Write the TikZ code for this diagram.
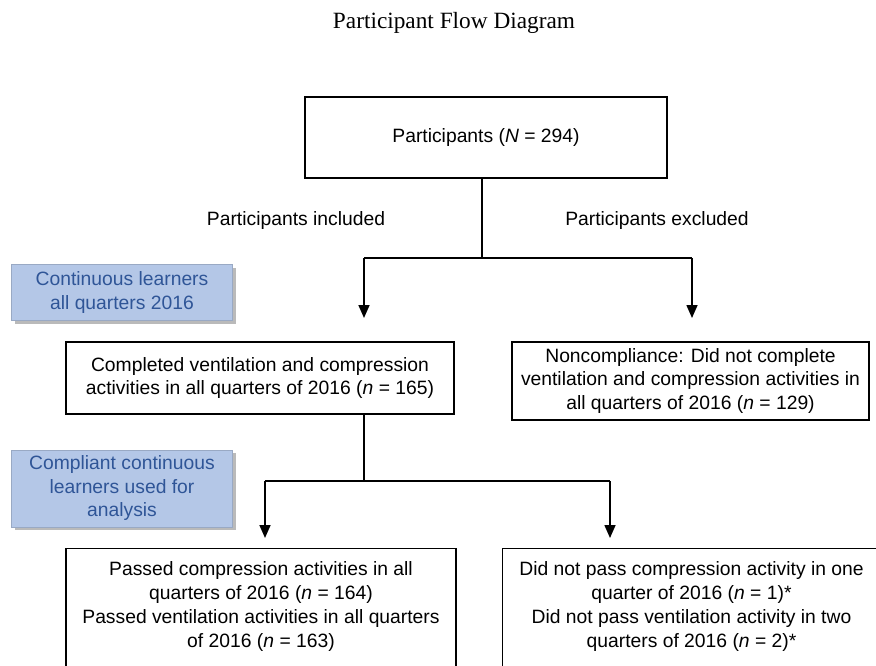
\documentclass[tikz,border=0pt]{standalone}
\usepackage{fontspec}
\setmainfont{Liberation Sans}
\newfontfamily\titlefont{Liberation Serif}
\usetikzlibrary{arrows.meta,shadows}
\definecolor{bluefill}{RGB}{180,199,231}
\definecolor{bluetext}{RGB}{47,85,151}
\begin{document}
\begin{tikzpicture}[x=1pt,y=-1pt,
  every node/.style={font=\fontsize{19.3}{23.5}\selectfont, inner sep=0pt},
  box/.style={draw, line width=1.2pt, align=center},
  plain/.style={align=center, font=\fontsize{19.3}{24}\selectfont},
  bluebox/.style={fill=bluefill, draw=bluefill!85!black, line width=0.4pt, text=bluetext, align=center,
    drop shadow={shadow xshift=3pt, shadow yshift=-3pt, fill=black!45, opacity=0.6}},
  arr/.style={line width=1.6pt, -{Triangle[length=13pt,width=11pt]}},
  ln/.style={line width=1.2pt}]
\useasboundingbox (0,0) rectangle (876,665);
\node[font=\titlefont\fontsize{23.3}{28}\selectfont] (title) at (454,22.5) {Participant Flow Diagram};
\node[box, minimum width=362pt, minimum height=81pt] (top) at (486,137.5) {Participants (\textit{N} = 294)};
\node (inc) at (296,220.5) {Participants included};
\node (exc) at (657,220.5) {Participants excluded};
\coordinate (j1) at (482,258);
\coordinate (jl) at (364,258);
\coordinate (jr) at (692,258);
\coordinate (el) at (364,318);
\coordinate (er) at (692,318);
\draw[ln] (top.south -| j1) -- (j1);
\draw[ln] (jl) -- (jr);
\draw[arr] (jl) -- (el);
\draw[arr] (jr) -- (er);
\node[bluebox, minimum width=221pt, minimum height=56pt] (b1) at (122,292.5) {Continuous learners\\all quarters 2016};
\node[box, minimum width=388pt, minimum height=72pt] (c) at (260,378) {Completed ventilation and compression\\activities in all quarters of 2016 (\textit{n} = 165)};
\node[box, minimum width=357pt, minimum height=78pt] (nc) at (690.5,381) {Noncompliance: Did not complete\\ventilation and compression activities in\\all quarters of 2016 (\textit{n} = 129)};
\node[bluebox, minimum width=221pt, minimum height=77pt] (b2) at (122,488.5) {Compliant continuous\\learners used for\\analysis};
\coordinate (j2) at (364,481);
\coordinate (kl) at (265,481);
\coordinate (kr) at (610,481);
\coordinate (fl) at (265,538);
\coordinate (fr) at (610,538);
\draw[ln] (c.south -| j2) -- (j2);
\draw[ln] (kl) -- (kr);
\draw[arr] (kl) -- (fl);
\draw[arr] (kr) -- (fr);
\node[box, anchor=north, minimum width=390pt, minimum height=160pt] (pl) at (261,548) {};
\node[plain] (plt) at (261,606.5) {Passed compression activities in all\\quarters of 2016 (\textit{n} = 164)\\Passed ventilation activities in all quarters\\of 2016 (\textit{n} = 163)};
\node[box, anchor=north west, minimum width=388pt, minimum height=160pt] (pr) at (502,548) {};
\node[plain] (prt) at (691.5,606.5) {Did not pass compression activity in one\\quarter of 2016 (\textit{n} = 1)*\\Did not pass ventilation activity in two\\quarters of 2016 (\textit{n} = 2)*};
\end{tikzpicture}
\end{document}
